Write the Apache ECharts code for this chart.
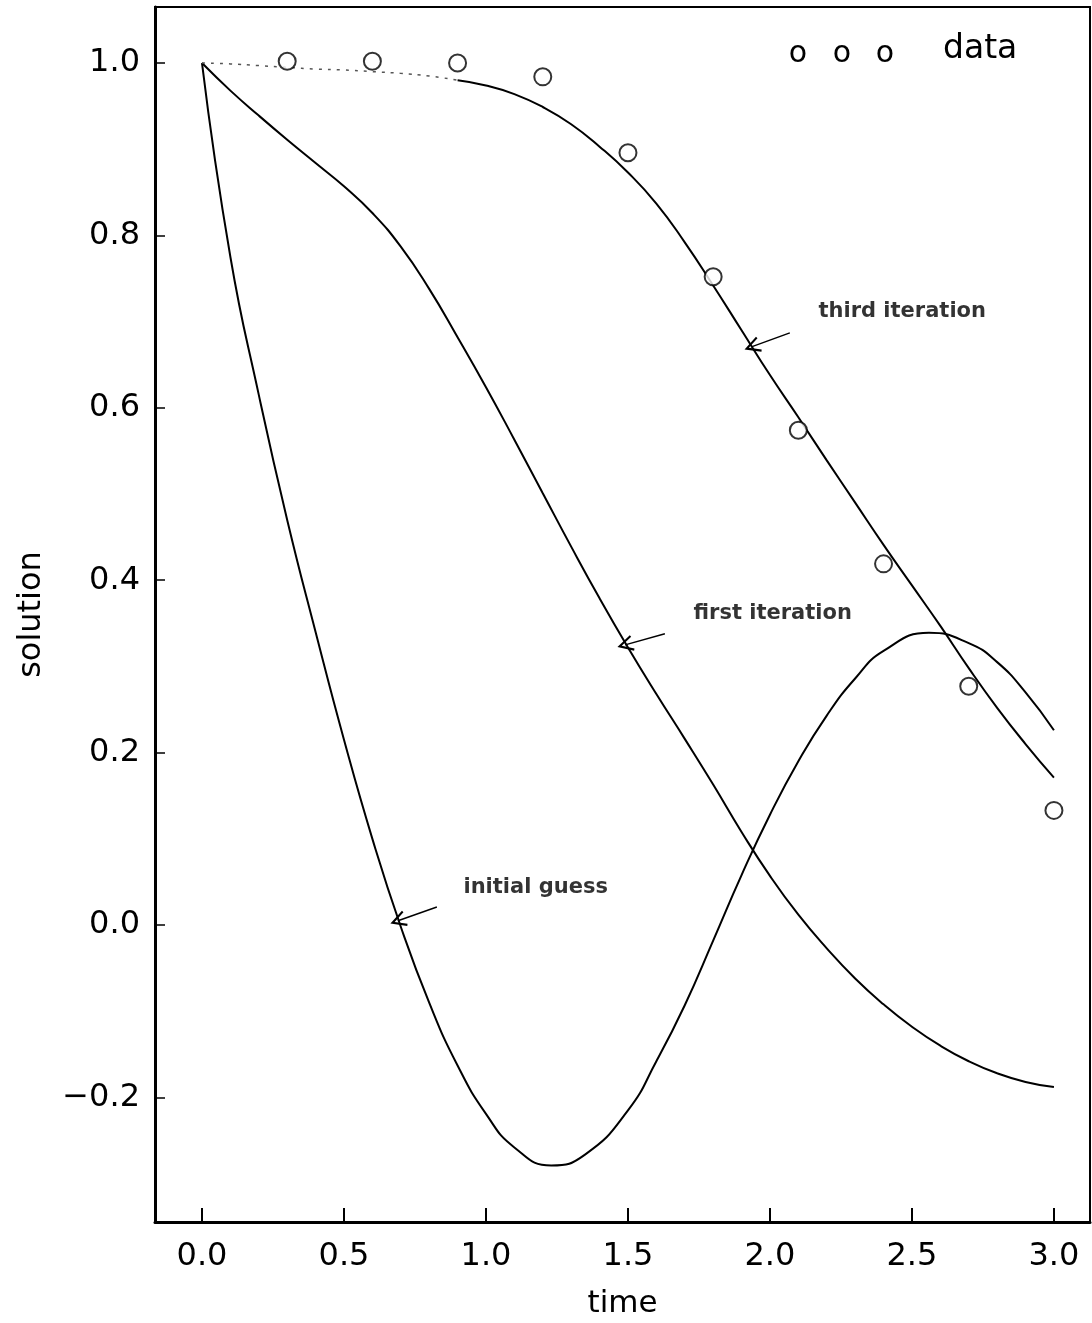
<!DOCTYPE html>
<html>
<head>
<meta charset="utf-8">
<script src="https://cdn.jsdelivr.net/npm/echarts@6/dist/echarts.min.js"></script>
<style>
  html, body { margin: 0; padding: 0; background: #fff; }
  #main { width: 1092px; height: 1323px; }
</style>
</head>
<body>
<div id="main"></div>
<script>
  // measured data (circles)
  var dataTime = [0.3, 0.6, 0.9, 1.2, 1.5, 1.8, 2.1, 2.4, 2.7, 3.0];
  var dataValue = [1.002, 1.002, 1.0, 0.984, 0.896, 0.752, 0.574, 0.419, 0.277, 0.133];

  // initial guess (extra points at the min and max)
  var initialTime = [0, 0.1, 0.2, 0.3, 0.4, 0.5, 0.6, 0.7, 0.8, 0.9, 1.0, 1.1, 1.23, 1.35,
    1.5, 1.6, 1.7, 1.8, 1.9, 2.0, 2.1, 2.2, 2.3, 2.4, 2.56, 2.7, 2.8, 2.9, 3.0];
  var initialGuess = [1.0, 0.775, 0.615, 0.47, 0.34, 0.215, 0.10, -0.002, -0.09, -0.163,
    -0.219, -0.258, -0.279, -0.266, -0.215, -0.158, -0.093, -0.018, 0.058,
    0.128, 0.19, 0.243, 0.286, 0.318, 0.339, 0.327, 0.305, 0.27, 0.226];

  // first and third iteration, every 0.1 in time
  var curveTime = [0, 0.1, 0.2, 0.3, 0.4, 0.5, 0.6, 0.7, 0.8, 0.9, 1.0, 1.1, 1.2, 1.3, 1.4, 1.5,
    1.6, 1.7, 1.8, 1.9, 2.0, 2.1, 2.2, 2.3, 2.4, 2.5, 2.6, 2.7, 2.8, 2.9, 3.0];
  var firstIteration = [1.0, 0.968, 0.939, 0.911, 0.884, 0.857, 0.826, 0.787, 0.738, 0.682,
    0.624, 0.563, 0.501, 0.439, 0.379, 0.322, 0.268, 0.216, 0.163, 0.108,
    0.057, 0.012, -0.027, -0.062, -0.092, -0.118, -0.14, -0.158, -0.172, -0.182, -0.188];
  var thirdIteration = [1.0, 0.999, 0.997, 0.995, 0.993, 0.992, 0.99, 0.988, 0.985, 0.98,
    0.974, 0.964, 0.949, 0.929, 0.903, 0.873, 0.837, 0.792, 0.742, 0.69,
    0.638, 0.589, 0.539, 0.49, 0.441, 0.394, 0.347, 0.298, 0.252, 0.21, 0.171];

  var xTicks = [0, 0.5, 1.0, 1.5, 2.0, 2.5, 3.0];
  var yTicks = [-0.2, 0, 0.2, 0.4, 0.6, 0.8, 1.0];

  // annotations
  var noteLabels = ['third iteration', 'first iteration', 'initial guess'];
  var noteAnchors = [[2.169, 0.712], [1.729, 0.361], [0.919, 0.044]];
  var arrowTails = [[2.07, 0.687], [1.63, 0.338], [0.827, 0.021]];
  var arrowHeads = [[1.937, 0.671], [1.49, 0.325], [0.69, 0.005]];

  var FONT = 'DejaVu Sans';
  var chevron = 'path://M5,0 L10,10 L8.8,10.6 L5,3 L1.2,10.6 L0,10 Z';

  function pairs(times, values) {
    return values.map(function (v, i) { return [times[i], v]; });
  }

  var chart = echarts.init(document.getElementById('main'), null, { renderer: 'canvas' });

  // the near-flat start of the third iteration prints faint/dotted
  var thirdAll = pairs(curveTime, thirdIteration);
  var thirdDotted = thirdAll.filter(function (p) { return p[0] <= 0.9; });
  var thirdSolid = thirdAll.filter(function (p) { return p[0] >= 0.9; });

  var curveStyle = { color: '#000', width: 2 };

  var option = {
    backgroundColor: '#fff',
    animation: false,
    grid: {
      left: 155, right: 2, top: 7, bottom: 101,
      show: true, borderColor: '#000', borderWidth: 2,
      containLabel: false, outerBoundsMode: 'none'
    },
    xAxis: {
      type: 'value', min: -0.1655, max: 3.127,
      name: 'time', nameLocation: 'middle', nameGap: 66,
      nameTextStyle: { fontFamily: FONT, fontSize: 31, color: '#000' },
      axisLine: { show: true, onZero: false, lineStyle: { color: '#000', width: 3 } },
      axisTick: { show: true, inside: false, length: -14, customValues: xTicks, lineStyle: { color: '#000', width: 2 } },
      axisLabel: {
        customValues: xTicks, margin: 19, color: '#000', fontFamily: FONT, fontSize: 32,
        formatter: function (v) { return v.toFixed(1); }
      },
      splitLine: { show: false }
    },
    yAxis: {
      type: 'value', min: -0.3445, max: 1.065,
      name: 'solution', nameLocation: 'middle', nameGap: 107, nameRotate: 90,
      nameTextStyle: { fontFamily: FONT, fontSize: 32, color: '#000' },
      axisLine: { show: true, onZero: false, lineStyle: { color: '#000', width: 3 } },
      axisTick: { show: true, inside: false, length: -10, customValues: yTicks, lineStyle: { color: '#000', width: 1.5 } },
      axisLabel: {
        customValues: yTicks, margin: 15, color: '#000', fontFamily: FONT, fontSize: 32,
        formatter: function (v) { return (v < 0 ? '\u2212' : '') + Math.abs(v).toFixed(1); }
      },
      splitLine: { show: false }
    },
    graphic: [
      { type: 'text', x: 798, y: 54, style: { text: 'o', fill: '#000', font: '30px ' + FONT, textAlign: 'center', align: 'center', textVerticalAlign: 'middle', verticalAlign: 'middle' } },
      { type: 'text', x: 842, y: 54, style: { text: 'o', fill: '#000', font: '30px ' + FONT, textAlign: 'center', align: 'center', textVerticalAlign: 'middle', verticalAlign: 'middle' } },
      { type: 'text', x: 885, y: 54, style: { text: 'o', fill: '#000', font: '30px ' + FONT, textAlign: 'center', align: 'center', textVerticalAlign: 'middle', verticalAlign: 'middle' } },
      { type: 'text', x: 943, y: 49, style: { text: 'data', fill: '#000', font: '33px ' + FONT, textAlign: 'left', align: 'left', textVerticalAlign: 'middle', verticalAlign: 'middle' } }
    ],
    series: [
      {
        name: 'initial guess', type: 'line', data: pairs(initialTime, initialGuess),
        smooth: 0.5, showSymbol: false, lineStyle: curveStyle
      },
      {
        name: 'first iteration', type: 'line', data: pairs(curveTime, firstIteration),
        smooth: 0.5, showSymbol: false, lineStyle: curveStyle
      },
      {
        name: 'third iteration (start)', type: 'line', data: thirdDotted,
        smooth: 0.5, showSymbol: false,
        lineStyle: { color: '#555', width: 1.5, type: [3, 6] }
      },
      {
        name: 'third iteration', type: 'line', data: thirdSolid,
        smooth: 0.5, showSymbol: false, lineStyle: curveStyle
      },
      {
        name: 'data', type: 'scatter',
        data: pairs(dataTime, dataValue),
        symbol: 'emptyCircle', symbolSize: 17, z: 5,
        itemStyle: { color: '#000', borderColor: '#000', borderWidth: 2 }
      },
      {
        name: 'notes', type: 'scatter', silent: true,
        data: noteAnchors.map(function (p, i) { return { value: p, name: noteLabels[i] }; }),
        symbolSize: 1, itemStyle: { color: 'rgba(0,0,0,0)' },
        label: {
          show: true, position: 'right', distance: 0, formatter: '{b}',
          fontFamily: FONT, fontSize: 21, fontWeight: 'bold', color: '#000'
        },
        markLine: {
          silent: true, animation: false,
          symbol: ['none', chevron], symbolSize: 16,
          label: { show: false },
          lineStyle: { color: '#000', width: 1.5, type: 'solid' },
          data: arrowTails.map(function (p, i) {
            return [{ coord: p }, { coord: arrowHeads[i] }];
          })
        }
      }
    ]
  };

  chart.setOption(option);
</script>
</body>
</html>
